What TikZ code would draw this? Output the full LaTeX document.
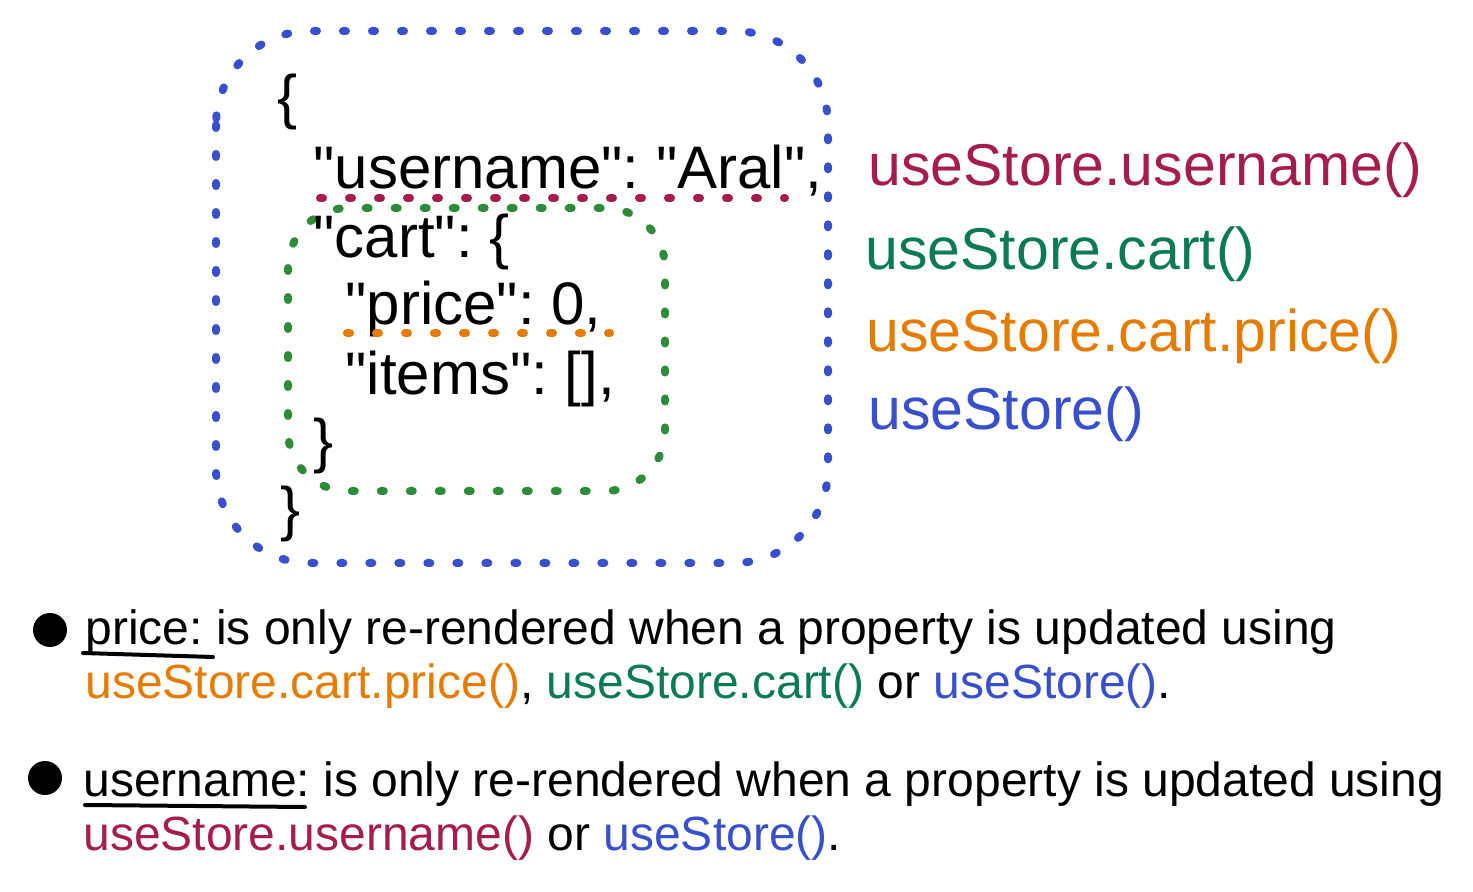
\documentclass[tikz,border=0pt]{standalone}
\usepackage{fontspec}
\setmainfont{Liberation Sans}[Ligatures=TeXOff]
\usetikzlibrary{positioning}
\definecolor{storeblue}{HTML}{3A4FCC}
\definecolor{storered}{HTML}{A51C4F}
\definecolor{storegreen}{HTML}{0B7A55}
\definecolor{cartgreen}{HTML}{2E8B3C}
\definecolor{storeorange}{HTML}{E57C00}
\frenchspacing

\begin{document}
\begin{tikzpicture}[x=0.5pt,y=-0.5pt,
  code node/.style={anchor=base west,inner sep=0pt,font=\fontsize{30}{36}\selectfont},
  hook node/.style={anchor=base west,inner sep=0pt,font=\fontsize{29.5}{36}\selectfont},
  note node/.style={anchor=base west,inner sep=0pt,font=\fontsize{24}{29}\selectfont},
  bullet node/.style={circle,fill=black,inner sep=0pt,minimum size=17pt},
  dot line/.style={line width=4pt,dash pattern=on 1.5pt off 13pt,line cap=round}]
  \useasboundingbox (0,0) rectangle (1473,892);

  % store boxes
  \draw[dot line,storeblue,rounded corners=47pt] (216,31) rectangle (828,563);
  \draw[dot line,cartgreen,rounded corners=30pt] (288,208) rectangle (665,491);

  % json
  \node[code node] (open) at (277,118) {\{};
  \node[code node] (user) at (313,189) {"username": "Aral",};
  \node[code node] (cart) at (313,258) {"cart": \{};
  \node[code node] (price) at (345,325) {"price": 0,};
  \node[code node] (items) at (345,395) {"items": [],};
  \node[code node] (cartclose) at (313,462) {\}};
  \node[code node] (close) at (280,530) {\}};

  \coordinate (user start) at (320,198);
  \coordinate (user end) at (785,198);
  \coordinate (price start) at (347,333);
  \coordinate (price end) at (610,333);
  \draw[dot line,storered] (user start) -- (user end);
  \draw[dot line,storeorange] (price start) -- (price end);

  % hooks
  \node[hook node,text=storered] (hook1) at (868,186) {useStore.username()};
  \node[hook node,text=storegreen] (hook2) at (865,270) {useStore.cart()};
  \node[hook node,text=storeorange] (hook3) at (866,352) {useStore.cart.price()};
  \node[hook node,text=storeblue] (hook4) at (868,430) {useStore()};

  % notes
  \node[bullet node] (b1) at (50,630) {};
  \node[note node] (n1) at (85,645) {price: is only re-rendered when a property is updated using};
  \node[note node] (n1b) at (85,698) {\textcolor{storeorange}{useStore.cart.price()}, \textcolor{storegreen}{useStore.cart()} or \textcolor{storeblue}{useStore()}.};
  \node[bullet node] (b2) at (45,778) {};
  \node[note node] (n2) at (83,797) {username: is only re-rendered when a property is updated using};
  \node[note node] (n2b) at (83,850) {\textcolor{storered}{useStore.username()} or \textcolor{storeblue}{useStore()}.};

  \coordinate (u1 start) at (83,653);
  \coordinate (u1 end) at (213,657);
  \coordinate (u2 start) at (85,805);
  \coordinate (u2 end) at (305,807);
  \draw[line width=2pt,line cap=round] (u1 start) -- (u1 end);
  \draw[line width=2pt,line cap=round] (u2 start) -- (u2 end);
\end{tikzpicture}
\end{document}
